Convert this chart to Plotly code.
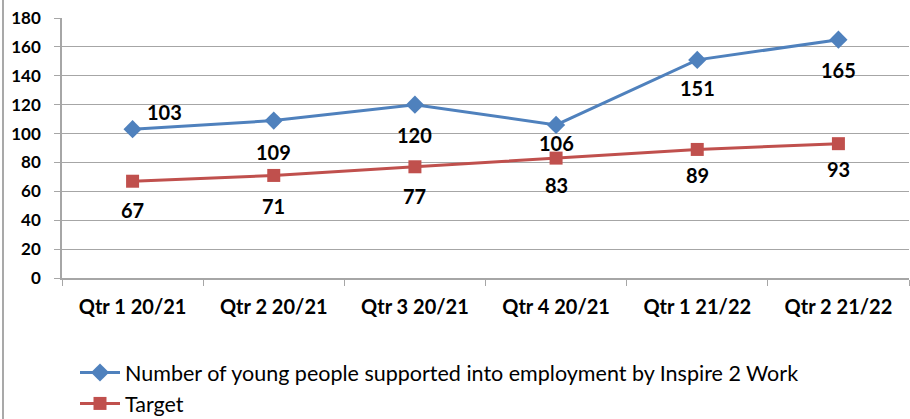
import plotly.graph_objects as go

categories = ["Qtr 1 20/21", "Qtr 2 20/21", "Qtr 3 20/21", "Qtr 4 20/21", "Qtr 1 21/22", "Qtr 2 21/22"]
supported = [103, 109, 120, 106, 151, 165]
target = [67, 71, 77, 83, 89, 93]
name_supported = "Number of young people supported into employment by Inspire 2 Work"
name_target = "Target"

BLUE = "#4F81BD"
RED = "#C0504D"
GRID = "#a6a6a6"
FONT = "Lato"

W, H = 910, 419
ML, MR, MT, MB = 62, 1, 18, 141
pw = W - ML - MR
ph = H - MT - MB

fig = go.Figure()
fig.add_trace(go.Scatter(x=categories, y=supported, name=name_supported, mode="lines+markers",
                         line=dict(color=BLUE, width=3),
                         marker=dict(symbol="diamond", size=14, color=BLUE)))
fig.add_trace(go.Scatter(x=categories, y=target, name=name_target, mode="lines+markers",
                         line=dict(color=RED, width=3),
                         marker=dict(symbol="square", size=13, color=RED)))

# label offsets (px) - style only
sup_off = [(32, 17), (0, -31), (0, -30), (0, -18), (0, -28), (0, -30)]
tgt_off = [(0, -29), (0, -31), (0, -29), (0, -27), (0, -26), (0, -25)]
for c, v, (dx, dy) in zip(categories, supported, sup_off):
    fig.add_annotation(x=c, y=v, text=str(v), showarrow=False, xshift=dx, yshift=dy,
                       font=dict(family=FONT, size=20, color="black", weight="bold"))
for c, v, (dx, dy) in zip(categories, target, tgt_off):
    fig.add_annotation(x=c, y=v, text=str(v), showarrow=False, xshift=dx, yshift=dy,
                       font=dict(family=FONT, size=20, color="black", weight="bold"))

# chart outline on the left
fig.add_shape(type="line", xref="paper", yref="paper",
              x0=(3 - ML) / pw, x1=(3 - ML) / pw, y0=-MB / ph, y1=1 + MT / ph,
              line=dict(color="#8c8c8c", width=1.5))

fig.update_layout(
    width=W, height=H,
    margin=dict(l=ML, r=MR, t=MT, b=MB, autoexpand=False),
    paper_bgcolor="white", plot_bgcolor="white",
    font=dict(family=FONT, color="black"),
    showlegend=True,
    legend=dict(x=(75 - ML) / pw, xanchor="left", y=-(352 - (H - MB)) / ph,
                yanchor="top", orientation="v",
                font=dict(family=FONT, size=21.5, color="black"),
                itemwidth=40, bgcolor="rgba(0,0,0,0)"),
    xaxis=dict(type="category", showgrid=False, showline=True, linecolor=GRID, linewidth=1.5,
               ticks="outside", tickson="boundaries", ticklen=6, tickcolor=GRID,
               ticklabelstandoff=10,
               tickfont=dict(family=FONT, size=20, color="black", weight="bold"),
               range=[-0.5, 5.5], fixedrange=True, automargin=False),
    yaxis=dict(range=[0, 180], dtick=20, showgrid=True, gridcolor=GRID, gridwidth=1,
               showline=True, linecolor=GRID, linewidth=1.5, zeroline=False,
               ticks="outside", ticklen=6, tickcolor=GRID, automargin=False,
               ticklabelstandoff=10, fixedrange=True,
               tickfont=dict(family=FONT, size=17, color="black", weight="bold")),
)

fig.write_html("out.html", config={"displayModeBar": False},
               post_script="document.body.style.margin='0px';")
